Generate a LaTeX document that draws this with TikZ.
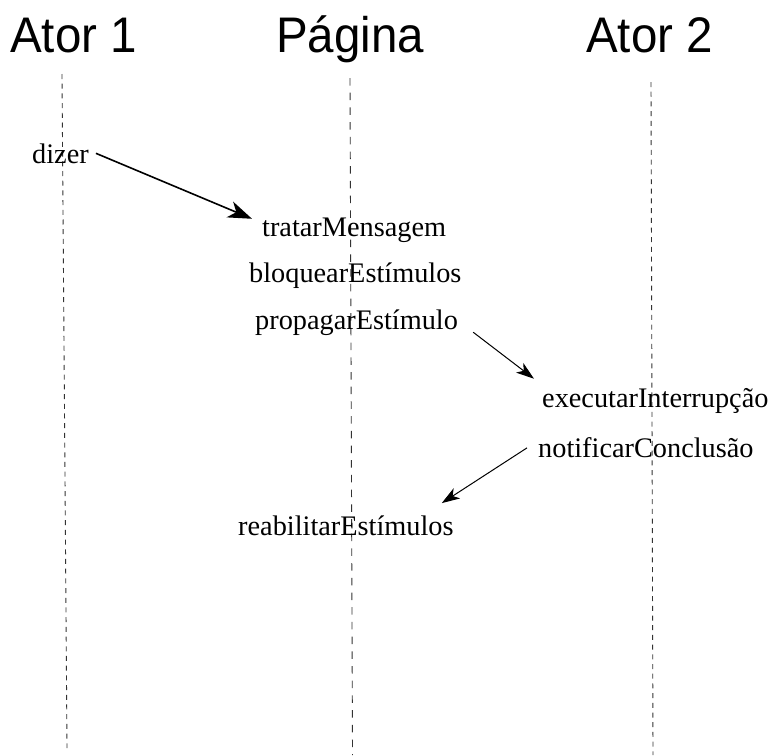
\documentclass[tikz,border=0pt]{standalone}
\usepackage{fontspec}
\setmainfont{Liberation Serif}
\newfontfamily\titlefont{Liberation Sans}
\usetikzlibrary{arrows.meta,calc}

\begin{document}
\begin{tikzpicture}[x=1pt,y=-1pt,
  title/.style={anchor=base west,inner sep=0pt,font=\titlefont\fontsize{50}{50}\selectfont},
  msg/.style={anchor=base west,inner sep=0pt,font=\fontsize{28.3}{28.3}\selectfont},
  life/.style={draw=black!80,line width=0.9pt},
  shortdash/.style={dash pattern=on 5pt off 4.7pt},
  longdash/.style={dash pattern=on 7.5pt off 7.2pt},
  bigcall/.style={draw,line width=1.6pt,-{Stealth[length=24pt,width=17pt,inset=7pt]}},
  smallcall/.style={draw,line width=1pt,-{Stealth[length=18pt,width=12pt,inset=5pt]}}
]
\useasboundingbox (0,0) rectangle (776,755);

% titles
\newcommand{\narrow}[1]{\scalebox{0.95}[1]{#1}}
\node[title] (t1) at (10,52) {\narrow{Ator 1}};
\node[title] (t2) at (276,52) {\narrow{Página}};
\node[title] (t3) at (586,52) {\narrow{Ator 2}};

% lifelines
\coordinate (l1top) at (62,74);
\coordinate (l1bot) at (67,748);
\coordinate (l2top) at (350,78);
\coordinate (l2bot) at (352.5,755);
\coordinate (l3top) at (651,82);
\coordinate (l3bot) at (653,755);
\draw[life,shortdash] (l1top) -- (l1bot);
\draw[life,longdash] (l2top) -- (l2bot);
\draw[life,shortdash] (l3top) -- (l3bot);

% messages
\node[msg] (dizer) at (32,163) {dizer};
\node[msg] (trat) at (262,236) {tratarMensagem};
\node[msg] (bloq) at (249,282) {bloquearEstímulos};
\node[msg] (prop) at (255,329) {propagarEstímulo};
\node[msg] (exec) at (542,407) {executarInterrupção};
\node[msg] (notif) at (538,457) {notificarConclusão};
\node[msg] (reab) at (238,535) {reabilitarEstímulos};

% arrows
\draw[bigcall] ($(dizer.east)+(7,0)$) -- ($(trat.west)+(-10,-11)$);
\draw[smallcall] ($(prop.east)+(15,10)$) -- ($(exec.north west)+(-8,-9)$);
\draw[smallcall] ($(notif.north west)+(-11,11)$) -- ($(reab.north east)+(-12,-12)$);
\end{tikzpicture}
\end{document}
